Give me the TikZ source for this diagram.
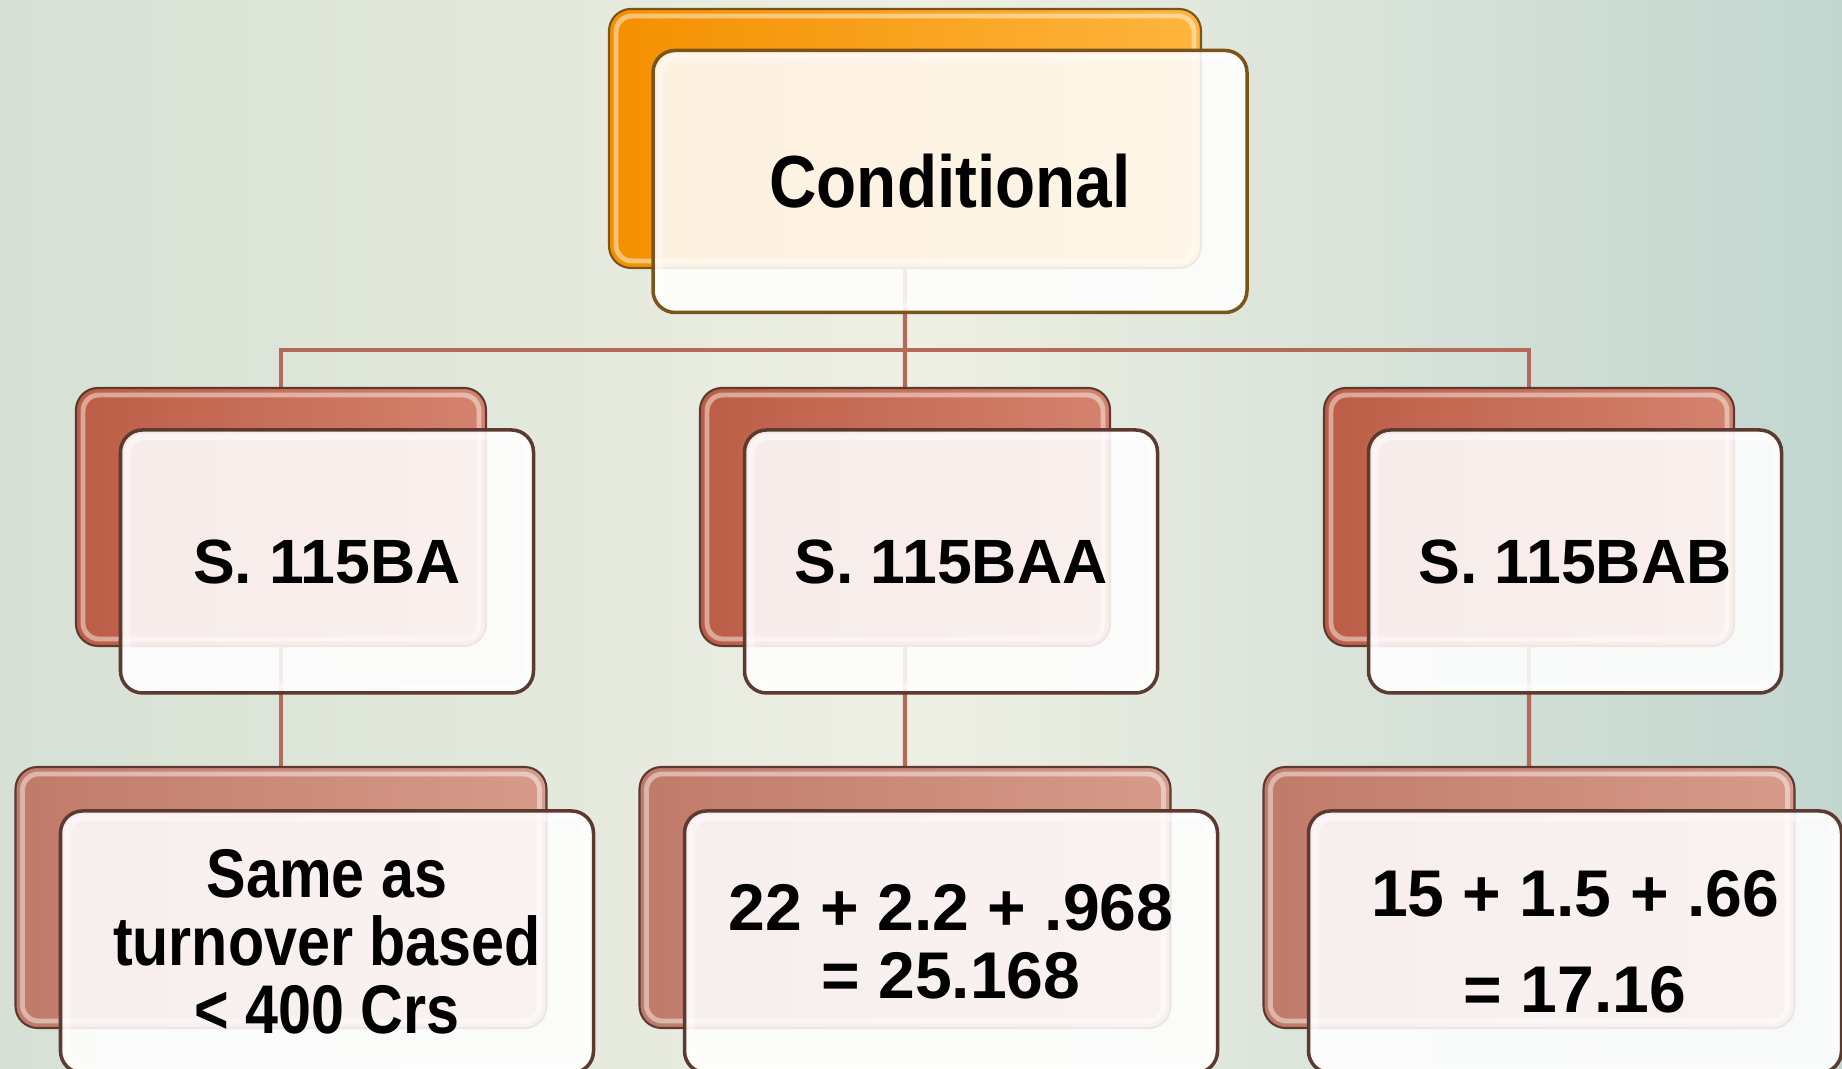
\documentclass[tikz,border=0pt]{standalone}
\usepackage{fontspec}
\setmainfont{Liberation Sans}
\newfontfamily\narrowfont{Liberation Sans}[FakeStretch=0.89]
\newfontfamily\slimfont{Liberation Sans}[FakeStretch=0.86]
\usetikzlibrary{positioning,calc,backgrounds}
\definecolor{bgL}{HTML}{D6E0D4}
\definecolor{bgM}{HTML}{EEEFE3}
\definecolor{bgR}{HTML}{C2D6D0}
\definecolor{linkred}{HTML}{B36A58}
\definecolor{orgL}{HTML}{F39000}
\definecolor{orgR}{HTML}{FFB53E}
\definecolor{terL}{HTML}{BC5E46}
\definecolor{terR}{HTML}{D4826E}
\definecolor{pinkL}{HTML}{C07A6A}
\definecolor{pinkR}{HTML}{D69B8B}
\definecolor{cardline}{HTML}{5C3A30}
\definecolor{goldline}{HTML}{7A5418}

\begin{document}
\begin{tikzpicture}[
  sheen/.style={path picture={
      \draw[white, line width=#1, rounded corners=0.16cm, opacity=0.45]
        ([shift={(0.07,0.07)}]path picture bounding box.south west) rectangle
        ([shift={(-0.07,-0.07)}]path picture bounding box.north east);}},
  shell/.style={rectangle, rounded corners=0.22cm, inner sep=0pt, outer sep=0pt,
                draw=#1, line width=0.6pt, sheen=1.4pt},
  topshell/.style={shell=goldline, left color=orgL, right color=orgR,
                   minimum width=5.92cm, minimum height=2.59cm},
  midshell/.style={shell=cardline, left color=terL, right color=terR,
                   minimum width=4.10cm, minimum height=2.58cm},
  botshell/.style={shell=cardline, left color=pinkL, right color=pinkR,
                   minimum width=5.31cm, minimum height=2.61cm},
  card/.style={rectangle, rounded corners=0.22cm, draw=cardline, line width=1pt,
               fill=white, fill opacity=0.88, text opacity=1, align=center,
               inner sep=0pt, outer sep=0pt, sheen=1.8pt},
  topcard/.style={card, draw=goldline, minimum width=5.94cm, minimum height=2.62cm,
                  font=\narrowfont\bfseries\fontsize{21}{25}\selectfont},
  midcard/.style={card, minimum width=4.13cm, minimum height=2.63cm,
                  font=\bfseries\fontsize{17.8}{22}\selectfont},
  botcard/.style={card, minimum width=5.33cm, minimum height=2.62cm},
  link/.style={draw=linkred, line width=1.2pt}
]
\useasboundingbox (0,0) rectangle (18.42,10.69);

\node[topshell] (tb) at (9.05,9.305) {};
\node[topcard] (cond) at ([shift={(0.45,-0.43)}]tb.center) {Conditional};

\node[midshell] (mb1) at (2.81,5.52) {};
\node[midshell, right=2.14cm of mb1] (mb2) {};
\node[midshell, right=2.14cm of mb2] (mb3) {};
\node[midcard] (m1) at ([shift={(0.46,-0.445)}]mb1.center) {S. 115BA};
\node[midcard] (m2) at ([shift={(0.46,-0.445)}]mb2.center) {S. 115BAA};
\node[midcard] (m3) at ([shift={(0.46,-0.445)}]mb3.center) {S. 115BAB};

\node[botshell] (bb1) at (2.81,1.715) {};
\node[botshell, right=0.93cm of bb1] (bb2) {};
\node[botshell, right=0.93cm of bb2] (bb3) {};
\node[botcard, font=\slimfont\bfseries\fontsize{19.6}{19.3}\selectfont]
  (b1) at ([shift={(0.46,-0.445)}]bb1.center) {Same as\\turnover based\\< 400 Crs};
\node[botcard, font=\bfseries\fontsize{18.8}{19.4}\selectfont]
  (b2) at ([shift={(0.46,-0.445)}]bb2.center) {22 + 2.2 + .968\\= 25.168};
\node[botcard, font=\bfseries\fontsize{18.8}{27.3}\selectfont]
  (b3) at ([shift={(0.46,-0.445)}]bb3.center) {15 + 1.5 + .66\\= 17.16};

\begin{scope}[on background layer]
  \fill[left color=bgL, right color=bgR, middle color=bgM] (0,0) rectangle (18.42,10.69);
  \coordinate (bus) at (0,7.19);
  \draw[link] (tb) -- (tb |- bus) -| (mb1);
  \draw[link] (tb |- bus) -| (mb3);
  \draw[link] (tb) -- (mb2);
  \draw[link] (mb1) -- (bb1);
  \draw[link] (mb2) -- (bb2);
  \draw[link] (mb3) -- (bb3);
\end{scope}
\end{tikzpicture}
\end{document}
